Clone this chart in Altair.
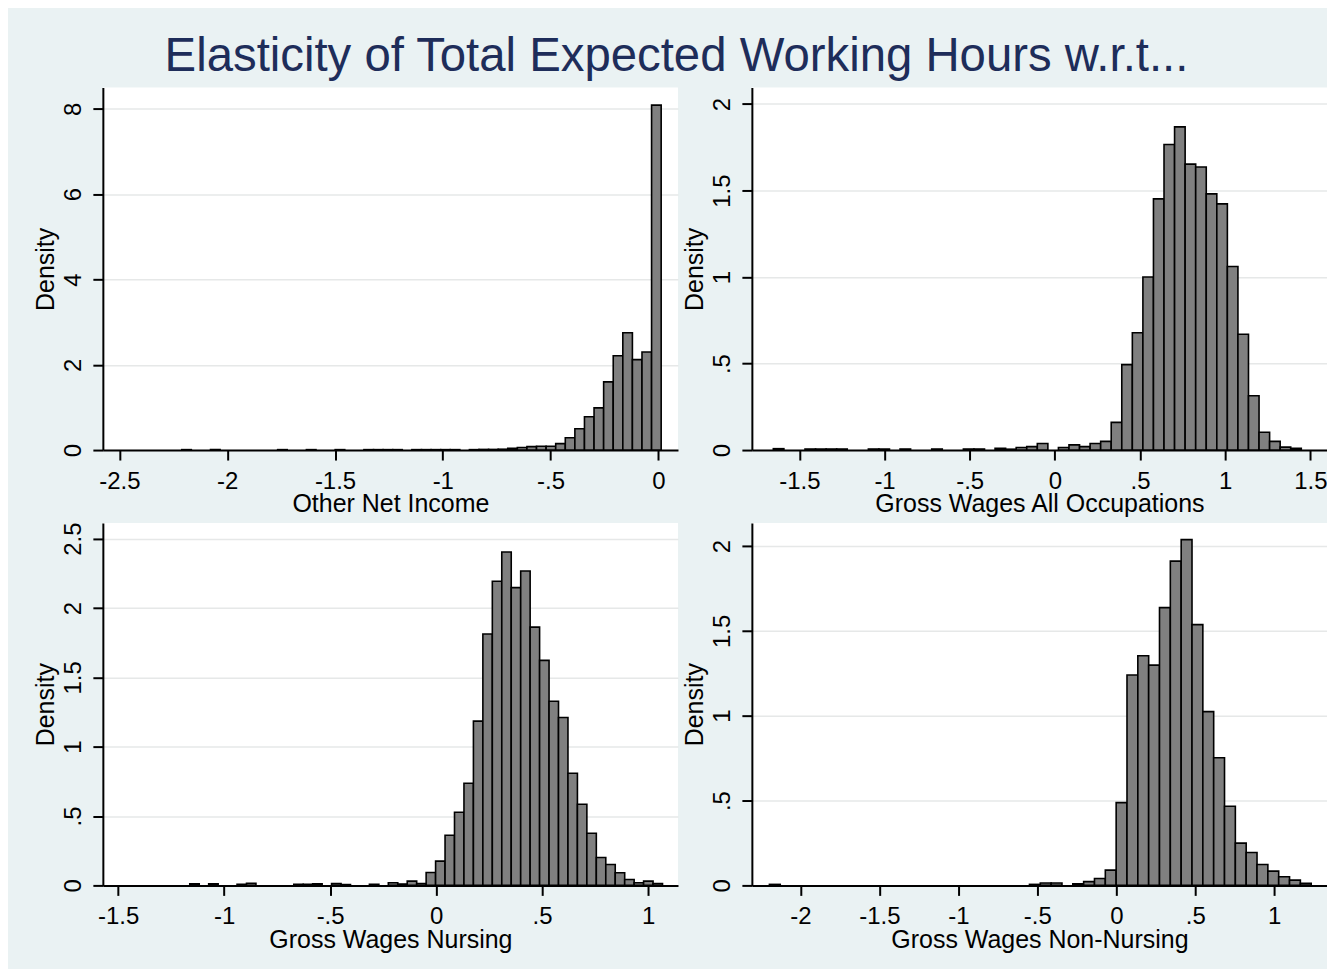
import altair as alt
import pandas as pd

FONT = "Liberation Sans"
TITLE = "Elasticity of Total Expected Working Hours w.r.t..."
Y_TITLE = "Density"

# ---- Panel 1: Other Net Income ----
p1_label = "Other Net Income"
p1_bin_start = -2.211
p1_bin_width = 0.04448
p1_heights = [0.01, 0, 0, 0.01, 0, 0, 0, 0, 0, 0,
              0.01, 0, 0, 0.01, 0, 0, 0.01, 0, 0, 0.01,
              0.01, 0.01, 0.01, 0, 0.01, 0.01, 0.01, 0.01, 0.01, 0,
              0.01, 0.015, 0.015, 0.02, 0.04, 0.06, 0.08, 0.09, 0.09, 0.15,
              0.29, 0.50, 0.78, 0.99, 1.60, 2.21, 2.75, 2.12, 2.30, 8.09]
p1_xticks = [-2.5, -2, -1.5, -1, -0.5, 0]
p1_yticks = [0, 2, 4, 6, 8]
p1_xdomain = [-2.577, 0.091]
p1_ydomain = [0, 8.5]

# ---- Panel 2: Gross Wages All Occupations ----
p2_label = "Gross Wages All Occupations"
p2_bin_start = -1.653
p2_bin_width = 0.062
p2_heights = [0.008, 0, 0, 0.006, 0.006, 0.006, 0.006, 0, 0, 0.006,
              0.006, 0, 0.006, 0, 0, 0.006, 0, 0, 0.006, 0.006,
              0, 0.01, 0.005, 0.015, 0.02, 0.038, 0, 0.015, 0.03, 0.02,
              0.038, 0.05, 0.16, 0.494, 0.678, 1.0, 1.452, 1.766, 1.868, 1.653,
              1.636, 1.481, 1.423, 1.061, 0.669, 0.314, 0.103, 0.05, 0.017, 0.01]
p2_xticks = [-1.5, -1, -0.5, 0, 0.5, 1, 1.5]
p2_yticks = [0, 0.5, 1, 1.5, 2]
p2_xdomain = [-1.779, 1.598]
p2_ydomain = [0, 2.095]

# ---- Panel 3: Gross Wages Nursing ----
p3_label = "Gross Wages Nursing"
p3_bin_start = -1.162
p3_bin_width = 0.0446
p3_heights = [0.012, 0, 0.012, 0, 0, 0.008, 0.016, 0, 0, 0,
              0, 0.008, 0.008, 0.012, 0, 0.014, 0.006, 0, 0, 0.008,
              0, 0.019, 0.01, 0.031, 0.014, 0.093, 0.175, 0.362, 0.527, 0.736,
              1.184, 1.812, 2.193, 2.404, 2.147, 2.267, 1.862, 1.622, 1.328, 1.21,
              0.808, 0.585, 0.376, 0.201, 0.151, 0.091, 0.043, 0.019, 0.031, 0.014]
p3_xticks = [-1.5, -1, -0.5, 0, 0.5, 1]
p3_yticks = [0, 0.5, 1, 1.5, 2, 2.5]
p3_xdomain = [-1.572, 1.141]
p3_ydomain = [0, 2.613]

# ---- Panel 4: Gross Wages Non-Nursing ----
p4_label = "Gross Wages Non-Nursing"
p4_bin_start = -2.196
p4_bin_width = 0.0686
p4_heights = [0.006, 0, 0, 0, 0, 0, 0, 0, 0, 0,
              0, 0, 0, 0, 0, 0, 0, 0, 0, 0,
              0, 0, 0, 0, 0.006, 0.014, 0.014, 0, 0.01, 0.022,
              0.041, 0.09, 0.488, 1.24, 1.353, 1.298, 1.637, 1.911, 2.038, 1.537,
              1.024, 0.752, 0.466, 0.249, 0.194, 0.123, 0.084, 0.051, 0.031, 0.012]
p4_xticks = [-2, -1.5, -1, -0.5, 0, 0.5, 1]
p4_yticks = [0, 0.5, 1, 1.5, 2]
p4_xdomain = [-2.307, 1.334]
p4_ydomain = [0, 2.136]

W = 576
H = 363

LABEL_EXPR = ("datum.value == 0.5 ? '.5' : datum.value == -0.5 ? '-.5' : "
              "toString(datum.value)")


def panel(start, width, heights, xticks, yticks, xdom, ydom, xlabel):
    n = len(heights)
    df = pd.DataFrame({
        "x0": [start + i * width for i in range(n)],
        "x1": [start + (i + 1) * width for i in range(n)],
        "h": heights,
        "base": [0.0] * n,
    })
    df = df[df["h"] > 0]
    common = dict(
        domainColor="black", domainWidth=2, tickColor="black", tickWidth=2,
        tickSize=10, labelFont=FONT, labelFontSize=24, labelColor="black",
        titleFont=FONT, titleFontSize=25, titleFontWeight="normal",
        titleColor="black", labelFlush=False, labelOverlap=False,
        labelExpr=LABEL_EXPR,
    )
    xaxis = alt.Axis(values=xticks, title=xlabel, grid=False, labelAngle=0,
                     labelAlign="center", labelBaseline="top", labelPadding=9,
                     titleX=W / 2, titleY=62, titleAlign="center",
                     titleBaseline="alphabetic", **common)
    yaxis = alt.Axis(values=yticks, title=Y_TITLE, grid=True,
                     gridColor="#e6e8e8", gridWidth=1.5,
                     labelAngle=270, labelAlign="center",
                     labelBaseline="alphabetic", labelPadding=12,
                     titleAngle=270, titleX=-49, titleY=H / 2,
                     titleAlign="center", titleBaseline="alphabetic", **common)
    return alt.Chart(df).mark_rect(
        fill="#808080", stroke="black", strokeWidth=1.6
    ).encode(
        x=alt.X("x0:Q", scale=alt.Scale(domain=xdom, nice=False, zero=False),
                axis=xaxis),
        x2="x1:Q",
        y=alt.Y("h:Q", scale=alt.Scale(domain=ydom, nice=False), axis=yaxis),
        y2="base:Q",
    ).properties(width=W, height=H)


c1 = panel(p1_bin_start, p1_bin_width, p1_heights, p1_xticks, p1_yticks,
           p1_xdomain, p1_ydomain, p1_label)
c2 = panel(p2_bin_start, p2_bin_width, p2_heights, p2_xticks, p2_yticks,
           p2_xdomain, p2_ydomain, p2_label)
c3 = panel(p3_bin_start, p3_bin_width, p3_heights, p3_xticks, p3_yticks,
           p3_xdomain, p3_ydomain, p3_label)
c4 = panel(p4_bin_start, p4_bin_width, p4_heights, p4_xticks, p4_yticks,
           p4_xdomain, p4_ydomain, p4_label)

chart = alt.concat(
    c1, c2, c3, c4, columns=2, spacing={"row": 73, "column": 74},
    bounds="flush",
).properties(
    title=alt.TitleParams(
        text=TITLE, font=FONT, fontSize=47.4, fontWeight="normal",
        color="#1e2d5a", anchor="middle", baseline="alphabetic",
        offset=-31, dx=-4,
    ),
    padding={"left": 26, "top": 24, "right": 0, "bottom": 16},
    background="#eaf2f3",
).configure_view(
    stroke=None, fill="white"
)

chart.save("out.html", embed_options={"renderer": "svg", "actions": False})
